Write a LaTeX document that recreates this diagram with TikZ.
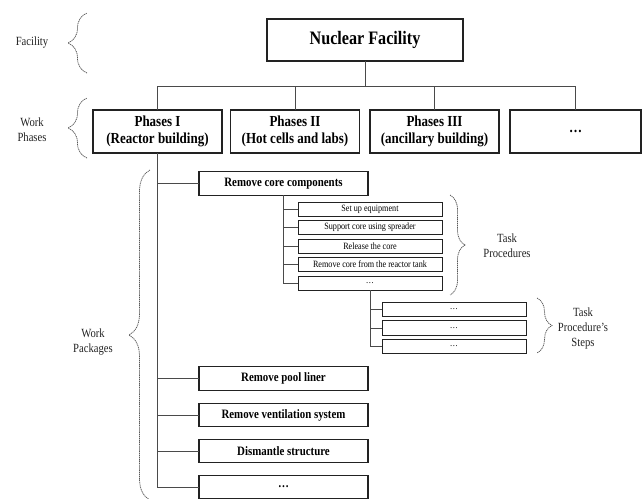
\documentclass[tikz,border=0pt]{standalone}
\usepackage{fontspec}
\setmainfont{Liberation Serif}[FakeStretch=0.85]
\usepackage{tikz}
\usetikzlibrary{positioning,decorations.pathreplacing}
\definecolor{Ink}{HTML}{222222}
\definecolor{Wire}{HTML}{4A4A4A}
\definecolor{Hint}{HTML}{585858}

\begin{document}
\begin{tikzpicture}[x=1pt,y=-1pt,
    box/.style={draw=Ink,line width=1.1pt,inner sep=0pt,outer sep=0pt,align=center,text=black},
    fac/.style={box,minimum width=196pt,minimum height=42pt,font=\fontsize{19}{22}\selectfont\bfseries},
    phase/.style={box,minimum width=129pt,minimum height=43pt,font=\fontsize{15.3}{17.5}\selectfont\bfseries},
    pkg/.style={box,minimum width=169pt,minimum height=23.5pt,font=\fontsize{12.8}{14}\selectfont\bfseries},
    task/.style={box,line width=0.9pt,minimum width=144pt,minimum height=14pt,font=\fontsize{9.6}{10}\selectfont},
    stepbox/.style={task,minimum height=14.5pt},
    conn/.style={draw=Wire,line width=1pt},
    brc/.style={decorate,draw=Hint,line width=0.75pt,dash pattern=on 1.2pt off 0.7pt},
    lbl/.style={align=center,text=Ink,font=\fontsize{12.5}{15}\selectfont}]
    \useasboundingbox (0,0) rectangle (644,498);
    \clip (0,0) rectangle (644,498);

    % facility and phases
    \node[fac] (fac) at (365,40) {Nuclear Facility};
    \node[phase] (ph1) at (157.5,131.5) {Phases I\\(Reactor building)};
    \node[phase] (ph2) at (295,131.5) {Phases II\\(Hot cells and labs)};
    \node[phase] (ph3) at (434.5,131.5) {Phases III\\(ancillary building)};
    \node[phase,minimum width=131pt] (ph4) at (575.5,131.5) {\ldots};
    \coordinate (bus) at (0,86);
    \draw[conn] (fac.south) -- (fac.south |- bus);
    \draw[conn] (ph1.north) |- (ph4.north |- bus) -- (ph4.north);
    \draw[conn] (ph2.north) -- (ph2.north |- bus);
    \draw[conn] (ph3.north) -- (ph3.north |- bus);

    % work packages of phase I
    \node[pkg] (wp1) at (283.5,183.5) {Remove core components};
    \node[pkg] (wp2) at (283.5,378.5) {Remove pool liner};
    \node[pkg] (wp3) at (283.5,415) {Remove ventilation system};
    \node[pkg] (wp4) at (283.5,451) {Dismantle structure};
    \node[pkg] (wp5) at (283.5,487) {\ldots};
    \draw[conn] (ph1.south) |- (wp5.west);
    \foreach \w in {wp1,wp2,wp3,wp4}
      \draw[conn] (ph1.south |- \w.west) -- (\w.west);

    % task procedures
    \node[task] (t1) at (370,209) {Set up equipment};
    \node[task,below=4.5pt of t1] (t2) {Support core using spreader};
    \node[task,below=4.5pt of t2] (t3) {Release the core};
    \node[task,below=4.5pt of t3] (t4) {Remove core from the reactor tank};
    \node[task,below=4.5pt of t4] (t5) {\ldots};
    \draw[conn] (wp1.south) |- (t5.west);
    \foreach \t in {t1,t2,t3,t4}
      \draw[conn] (wp1.south |- \t.west) -- (\t.west);

    % steps
    \node[stepbox] (s1) at (454,309.5) {\ldots};
    \node[stepbox,below=4pt of s1] (s2) {\ldots};
    \node[stepbox,below=4pt of s2] (s3) {\ldots};
    \draw[conn] (t5.south) |- (s3.west);
    \foreach \s in {s1,s2}
      \draw[conn] (t5.south |- \s.west) -- (\s.west);

    % level braces
    \draw[brc,decoration={brace,amplitude=19pt}] (87,73) -- (87,13);
    \draw[brc,decoration={brace,amplitude=19pt}] (87,158) -- (87,98);
    \draw[brc,decoration={brace,amplitude=21pt}] (150,500) -- (150,170);
    \draw[brc,decoration={brace,amplitude=15pt}] (450,195) -- (450,295);
    \draw[brc,decoration={brace,amplitude=15pt}] (537,298) -- (537,353);
    \node[lbl] (lfac) at (32,43) {Facility};
    \node[lbl] (lphase) at (32,130) {Work\\Phases};
    \node[lbl] (lpkg) at (93,342) {Work\\Packages};
    \node[lbl] (ltask) at (507,246) {Task\\Procedures};
    \node[lbl] (lstep) at (583,328) {Task\\Procedure's\\Steps};
\end{tikzpicture}
\end{document}
